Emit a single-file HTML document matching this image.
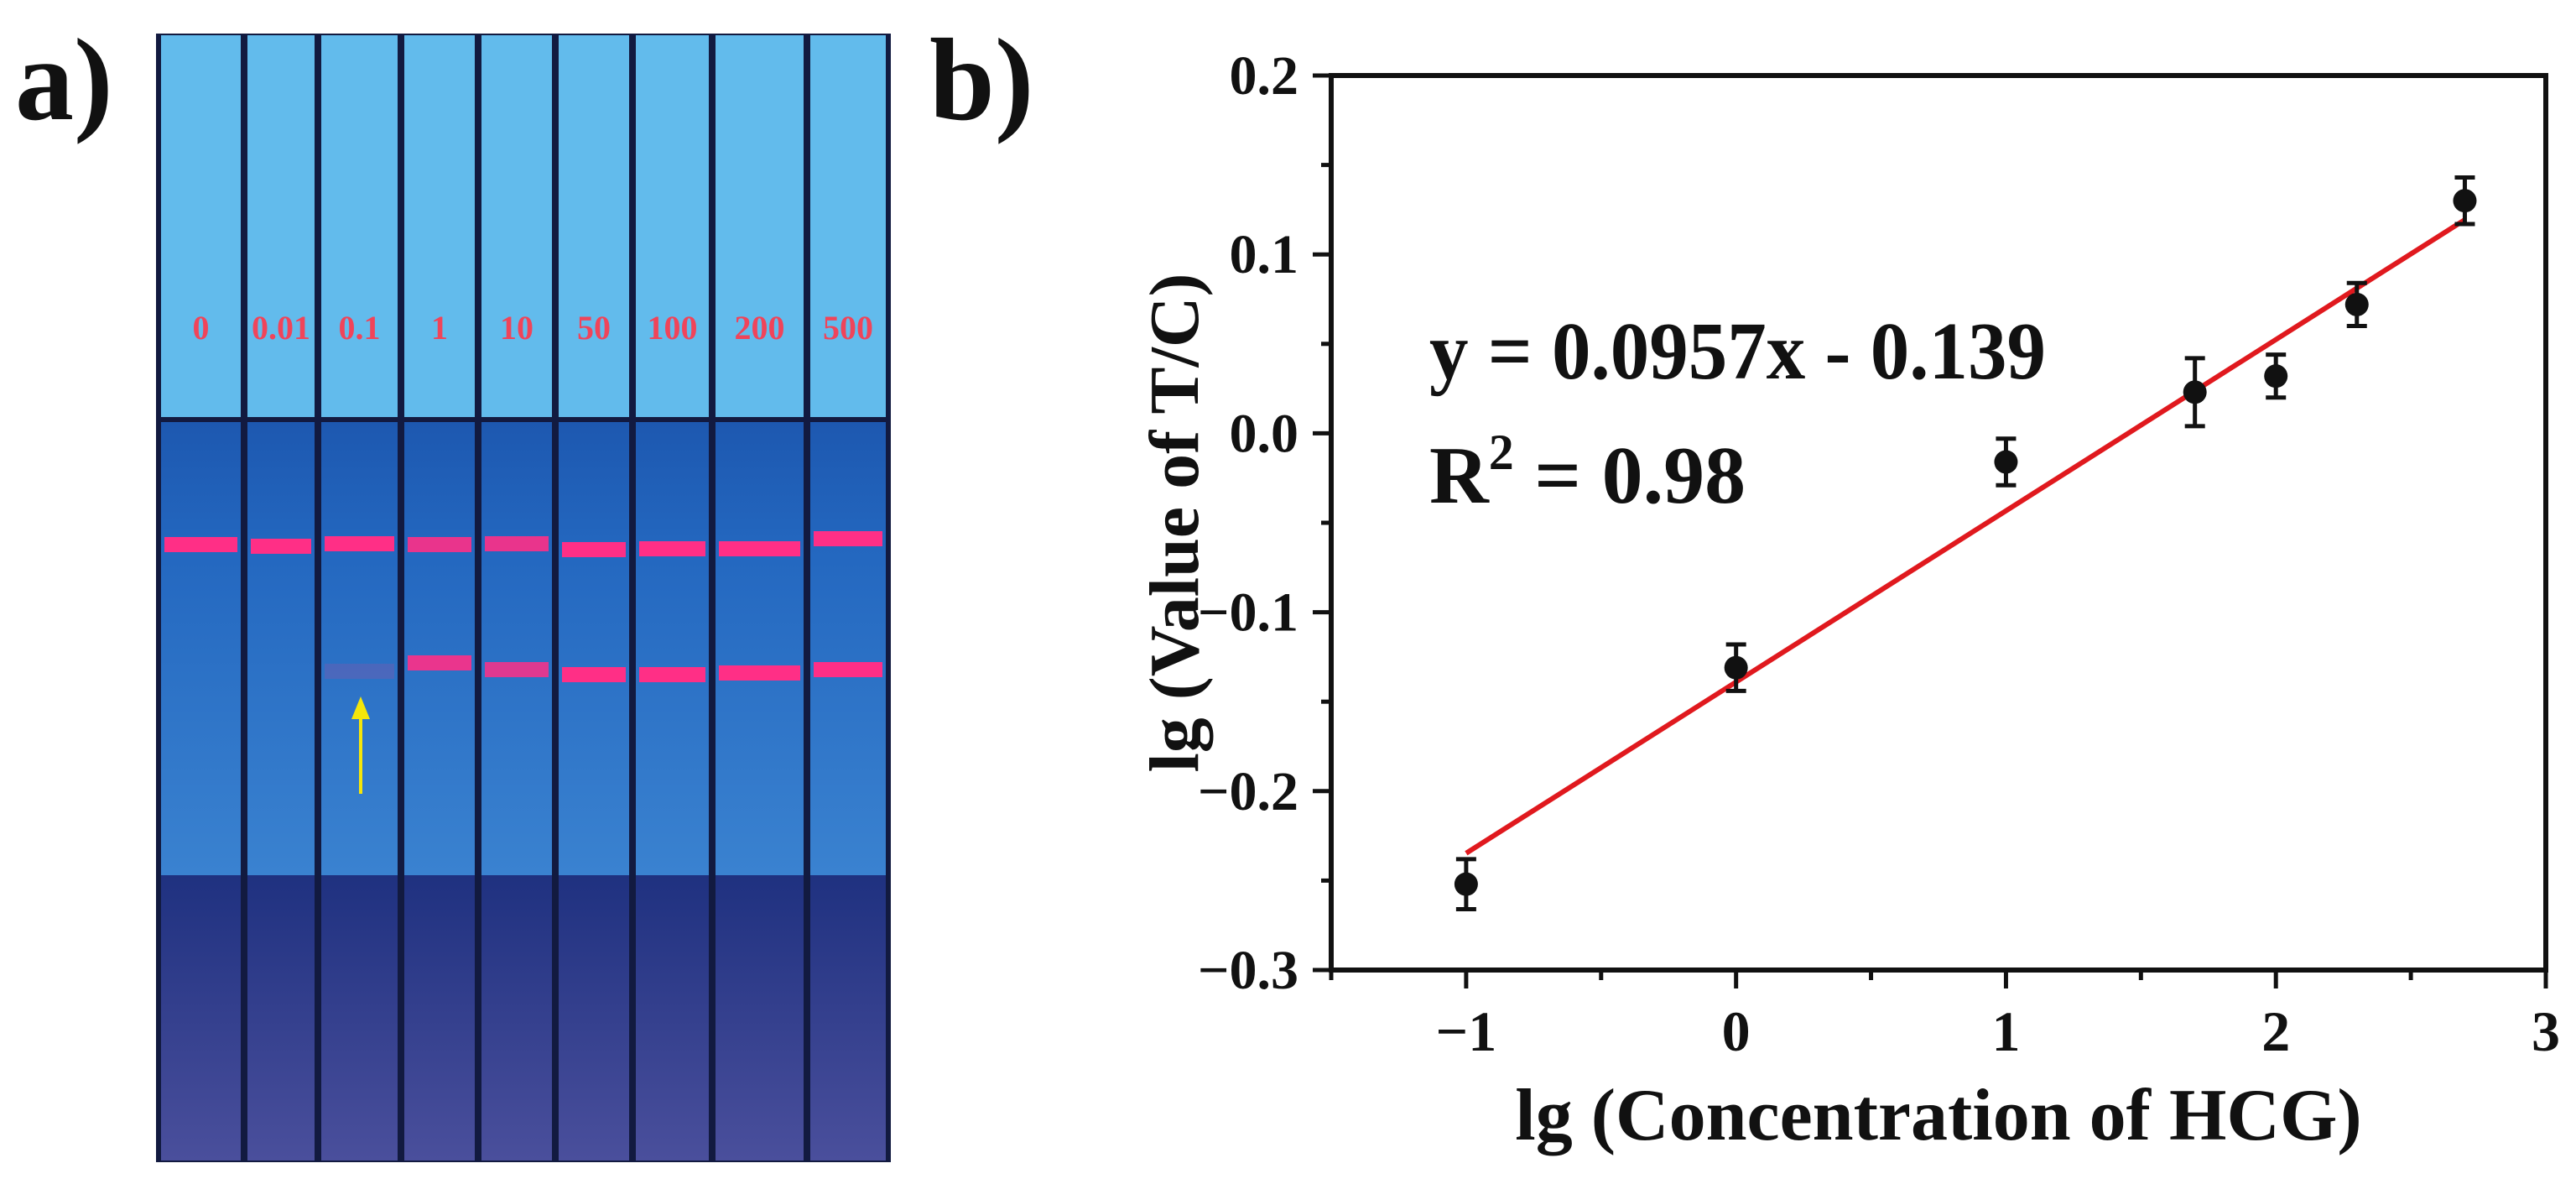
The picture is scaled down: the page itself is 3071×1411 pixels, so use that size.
<!DOCTYPE html>
<html><head><meta charset="utf-8"><style>
html,body{margin:0;padding:0;background:#fff;}
svg{display:block;font-family:"Liberation Serif",serif;font-weight:bold;}
</style></head><body>
<svg id="fig" width="3071" height="1411" viewBox="0 0 3071 1411" xmlns="http://www.w3.org/2000/svg">
<defs>
<linearGradient id="bot" x1="0" y1="0" x2="0" y2="1"><stop offset="0" stop-color="#1f3180"/><stop offset="1" stop-color="#4a4f9c"/></linearGradient>
<linearGradient id="mem" x1="0" y1="0" x2="0" y2="1"><stop offset="0" stop-color="#1d58b0"/><stop offset="0.3" stop-color="#2468c0"/><stop offset="1" stop-color="#3a82d0"/></linearGradient>
</defs>
<text x="18" y="142" font-size="140" fill="#111">a)</text>
<text x="1108" y="142" font-size="140" fill="#111">b)</text>
<g id="photo">
<rect x="186" y="40" width="876" height="1345" fill="#121a40"/>
</g>
<g id="chart"></g>
</svg>
<script>
const xVals = [-1, 0, 1, 1.7, 2, 2.3, 2.7];
const yVals = [-0.252, -0.131, -0.016, 0.023, 0.032, 0.072, 0.130];
const yErr = [0.014, 0.013, 0.013, 0.019, 0.012, 0.012, 0.013];
const xTicks = [-1, 0, 1, 2, 3];
const xTickLabels = ["\u22121", "0", "1", "2", "3"];
const yTicks = [-0.3, -0.2, -0.1, 0.0, 0.1, 0.2];
const yTickLabels = ["\u22120.3", "\u22120.2", "\u22120.1", "0.0", "0.1", "0.2"];
const fitSlope = 0.0957;
const fitIntercept = -0.139;
const stripLabels = ["0", "0.01", "0.1", "1", "10", "50", "100", "200", "500"];
const controlIntensity = [1, 1, 1, 0.9, 0.9, 1, 1, 1, 1];
const testIntensity = [0, 0, 0.15, 0.9, 0.85, 1, 1, 1, 1];

const NS = "http://www.w3.org/2000/svg";
function mk(parent, tag, attrs) {
  const e = document.createElementNS(NS, tag);
  for (const k in attrs) e.setAttribute(k, attrs[k]);
  parent.appendChild(e);
  return e;
}
const L = 1587, R = 3035, T = 90, B = 1156;
const xMin = -1.5, xMax = 3, yMin = -0.3, yMax = 0.2;
const sx = v => L + (v - xMin) / (xMax - xMin) * (R - L);
const sy = v => B - (v - yMin) / (yMax - yMin) * (B - T);

const chart = document.getElementById('chart');
const fit = mk(chart, 'line', {x1: sx(xVals[0]), y1: sy(fitSlope * xVals[0] + fitIntercept), x2: sx(xVals[xVals.length - 1]), y2: sy(fitSlope * xVals[xVals.length - 1] + fitIntercept), stroke: '#e0191e', 'stroke-width': 6});


xVals.forEach((xv, i) => {
  const g = mk(chart, 'g', {});
  
  
  const cx = sx(xv), top = sy(yVals[i] + yErr[i]), bot = sy(yVals[i] - yErr[i]);
  mk(g, 'line', {x1: cx, y1: top, x2: cx, y2: bot, stroke: '#111', 'stroke-width': 5});
  mk(g, 'line', {x1: cx - 12, y1: top, x2: cx + 12, y2: top, stroke: '#111', 'stroke-width': 5});
  mk(g, 'line', {x1: cx - 12, y1: bot, x2: cx + 12, y2: bot, stroke: '#111', 'stroke-width': 5});
  mk(g, 'circle', {cx: cx, cy: sy(yVals[i]), r: 14, fill: '#111'});
});
const frame = mk(chart, 'rect', {x: L, y: T, width: R - L, height: B - T, fill: 'none', stroke: '#111', 'stroke-width': 6});


for (let v = -1.5; v <= 3.001; v += 0.5) {
  const major = Math.abs(v - Math.round(v)) < 1e-6;
  mk(chart, 'line', {x1: sx(v), y1: B, x2: sx(v), y2: B + (major ? 22 : 12), stroke: '#111', 'stroke-width': 5});
}
xTicks.forEach((v, i) => {
  const t = mk(chart, 'text', {x: sx(v), y: 1252, 'font-size': 68, 'text-anchor': 'middle', fill: '#111'});
  t.textContent = xTickLabels[i];
  
  
});
for (let v = -0.3; v <= 0.2001; v += 0.05) {
  const major = Math.abs(v * 10 - Math.round(v * 10)) < 1e-6;
  mk(chart, 'line', {x1: L, y1: sy(v), x2: L - (major ? 22 : 12), y2: sy(v), stroke: '#111', 'stroke-width': 5});
}
yTicks.forEach((v, i) => {
  const t = mk(chart, 'text', {x: 1548, y: sy(v) + 22, 'font-size': 66, 'text-anchor': 'end', fill: '#111'});
  t.textContent = yTickLabels[i];
  
  
});
const xt = mk(chart, 'text', {x: (L + R) / 2, y: 1358, 'font-size': 88, 'text-anchor': 'middle', fill: '#111'});
xt.textContent = 'lg (Concentration of HCG)';


const yt = mk(chart, 'text', {x: 0, y: 0, 'font-size': 84, 'text-anchor': 'middle', fill: '#111', transform: 'translate(1428,' + ((T + B) / 2) + ') rotate(-90)'});
yt.textContent = 'lg (Value of T/C)';


const eq = mk(chart, 'text', {x: 1704, y: 451, 'font-size': 98, fill: '#111', textLength: 735, lengthAdjust: 'spacingAndGlyphs'});
eq.textContent = 'y = 0.0957x - 0.139';


const r2 = mk(chart, 'text', {x: 1704, y: 599, 'font-size': 98, fill: '#111'});
r2.innerHTML = 'R<tspan dy="-40" font-size="60">2</tspan><tspan dy="40"> = 0.98</tspan>';



const photo = document.getElementById('photo');
const edges = [188, 291, 379, 478, 570, 662, 754, 849, 962, 1060];
const testY = [0, 0, 800, 790, 798, 804, 804, 802, 798];
const ctrlY = [649, 651, 648, 649, 648, 655, 654, 654, 642];
stripLabels.forEach((lab, i) => {
  const x0 = edges[i] + 4, x1 = edges[i + 1] - 4, w = x1 - x0;
  const g = mk(photo, 'g', {});
  
  
  mk(g, 'rect', {x: x0, y: 42, width: w, height: 455, fill: '#62bbec'});
  mk(g, 'rect', {x: x0, y: 503, width: w, height: 540, fill: 'url(#mem)'});
  mk(g, 'rect', {x: x0, y: 1043, width: w, height: 340, fill: 'url(#bot)'});
  mk(g, 'rect', {x: x0 + 4, y: ctrlY[i] - 9, width: w - 8, height: 18, fill: '#ff2f86', opacity: controlIntensity[i]});
  if (testIntensity[i] > 0) mk(g, 'rect', {x: x0 + 4, y: testY[i] - 9, width: w - 8, height: 18, fill: '#ff2f86', opacity: testIntensity[i]});
  const t = mk(g, 'text', {x: (x0 + x1) / 2, y: 404, 'font-size': 40, 'text-anchor': 'middle', fill: '#f0445a'});
  t.textContent = lab;
  
  
});
const arrow = mk(photo, 'g', {});


mk(arrow, 'line', {x1: 430, y1: 946, x2: 430, y2: 850, stroke: '#f5e60a', 'stroke-width': 4});
mk(arrow, 'polygon', {points: '430,830 419,857 441,857', fill: '#f5e60a'});
</script>
</body></html>
